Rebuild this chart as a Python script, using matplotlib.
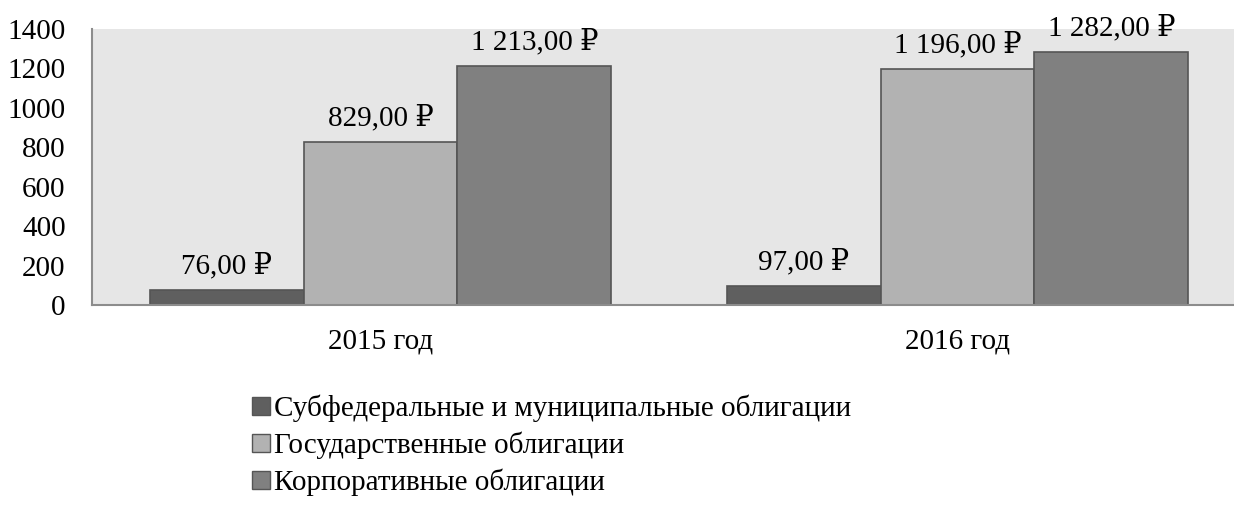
import numpy as np
import matplotlib.pyplot as plt
from matplotlib.patches import Patch

# data
years = ["2015 год", "2016 год"]
series_names = ["Субфедеральные и муниципальные облигации",
                "Государственные облигации",
                "Корпоративные облигации"]
municipal = [76, 97]
government = [829, 1196]
corporate = [1213, 1282]
y_ticks = [0, 200, 400, 600, 800, 1000, 1200, 1400]

colors = ["#5f5f5f", "#b2b2b2", "#808080"]
edge = "#555555"

plt.rcParams['font.family'] = ['Liberation Serif', 'DejaVu Serif']
plt.rcParams['font.size'] = 21


def fmt_rub(v):
    s = f"{v:,.2f}".replace(",", " ").replace(".", ",")
    return s + " ₽"


fig = plt.figure(figsize=(12.34, 5.12), dpi=100)
# axes runs slightly past the right edge, as in the cropped original
ax = fig.add_axes([92 / 1234, 1 - 305 / 512, 1154 / 1234, 276 / 512])
ax.set_facecolor("#e6e6e6")

x = np.arange(len(years))
w = 0.8 / 3
all_series = [municipal, government, corporate]
for i, vals in enumerate(all_series):
    pos = x + (i - 1) * w
    bars = ax.bar(pos, vals, width=w, color=colors[i], edgecolor=edge,
                  linewidth=1.2, zorder=2)
    for b, v in zip(bars, vals):
        ax.annotate(fmt_rub(v), (b.get_x() + b.get_width() / 2, v),
                    xytext=(0, 12), textcoords="offset points",
                    ha="center", va="baseline", fontsize=21,
                    annotation_clip=False, clip_on=False)

ax.set_xlim(-0.5, 1.5)
ax.set_ylim(0, 1400)
ax.set_yticks(y_ticks)
ax.set_xticks(x)
ax.set_xticklabels(years)
ax.tick_params(axis="both", length=0, labelsize=21)
ax.tick_params(axis="y", pad=19)
ax.tick_params(axis="x", pad=17)
for s in ["top", "right"]:
    ax.spines[s].set_visible(False)
for s in ["left", "bottom"]:
    ax.spines[s].set_color("#8c8c8c")
    ax.spines[s].set_linewidth(1.5)

handles = [Patch(facecolor=c, edgecolor=edge, linewidth=1.0) for c in colors]
fig.legend(handles, series_names, loc="upper left",
           bbox_to_anchor=(252 / 1234, 1 - 395 / 512), frameon=False,
           handlelength=0.6, handleheight=0.6, handletextpad=0.15,
           labelspacing=0.32, fontsize=21, borderaxespad=0, borderpad=0)

fig.savefig("out.png", dpi=100, facecolor="white")
